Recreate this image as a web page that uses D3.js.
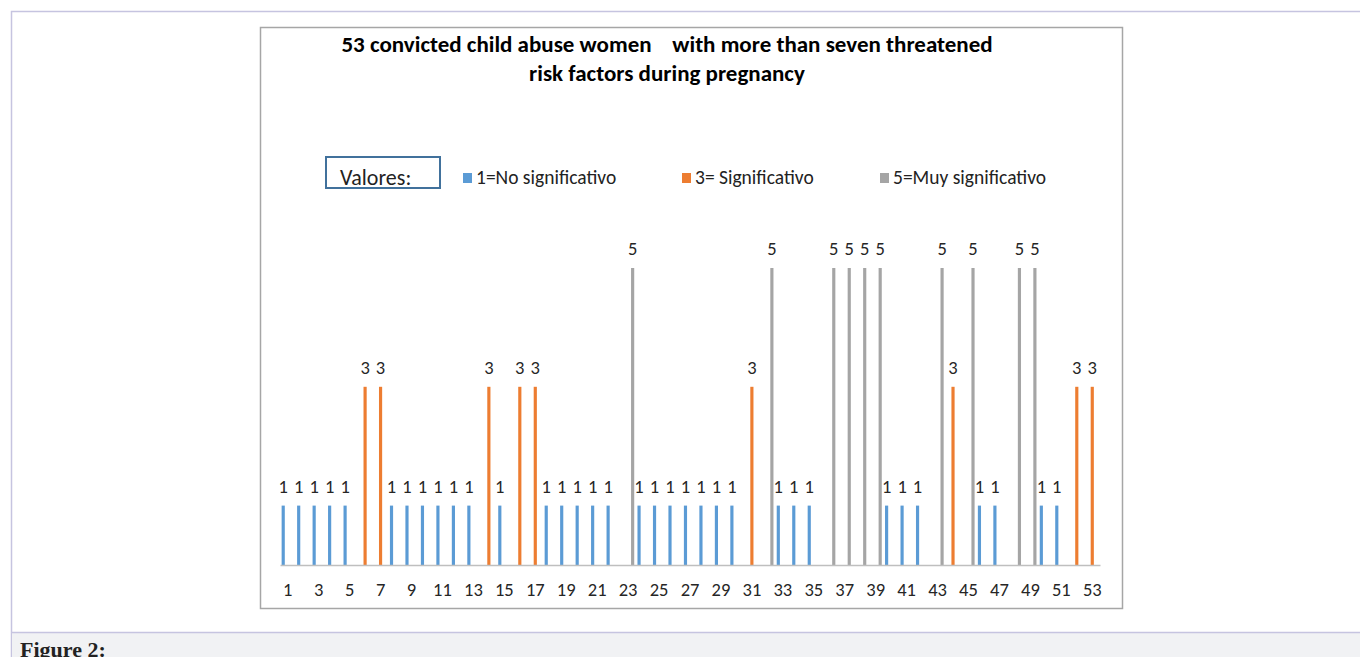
<!DOCTYPE html>
<html>
<head>
<meta charset="utf-8">
<script src="https://cdn.jsdelivr.net/npm/d3@7"></script>
<style>
  body { margin: 0; background: #ffffff; }
  svg { display: block; }
</style>
</head>
<body>
<svg id="chart"></svg>
<script>
// Données
const categories = [1,2,3,4,5,6,7,8,9,10,11,12,13,14,15,16,17,18,19,20,21,22,23,24,25,26,27,
    28,29,30,31,32,33,34,35,36,37,38,39,40,41,42,43,44,45,46,47,48,49,50,51,52,53];
const values = [1,1,1,1,1,3,3,1,1,1,1,1,1,3,1,3,3,1,1,1,1,1,5,1,1,1,1,1,1,1,3,5,1,1,1,
    5,5,5,5,1,1,1,5,3,5,1,1,5,5,1,1,3,3];
const seriesKeys = [1, 3, 5];
const seriesNames = ["1=No significativo", "3= Significativo", "5=Muy significativo"];
const seriesColors = ["#5b9bd5", "#ed7d31", "#a5a5a5"];
const xTickLabels = [1,3,5,7,9,11,13,15,17,19,21,23,25,27,29,31,33,35,37,39,41,43,45,47,49,51,53];
const titleLines = ["53 convicted child abuse women    with more than seven threatened",
    "risk factors during pregnancy"];

const W = 1360, H = 657;
const svg = d3.select("#chart").attr("width", W).attr("height", H);

const font = "Calibri, Carlito, 'Open Sans', sans-serif";

// cadre de la page
svg.append("path")
    .attr("d", `M11.5,${H} V11.5 H${W}`)
    .attr("fill", "none")
    .attr("stroke", "#c6c4e0")
    .attr("stroke-width", 1.5);

svg.append("rect")
    .attr("x", 12).attr("y", 632)
    .attr("width", W - 12).attr("height", H - 632)
    .attr("fill", "#f1f2f4");
svg.append("line")
    .attr("x1", 12).attr("x2", W)
    .attr("y1", 632.5).attr("y2", 632.5)
    .attr("stroke", "#c6c4e0")
    .attr("stroke-width", 1.5);
svg.append("text")
    .attr("x", 20).attr("y", 657)
    .attr("font-family", "'Liberation Serif', serif")
    .attr("font-weight", "bold")
    .attr("font-size", 22)
    .attr("fill", "#222")
    .text("Figure 2:");

// zone du graphique
svg.append("rect")
    .attr("x", 260.5).attr("y", 27.5)
    .attr("width", 862).attr("height", 581)
    .attr("fill", "#ffffff")
    .attr("stroke", "#a6a6a6")
    .attr("stroke-width", 1.5);

// titre
svg.append("g").selectAll("text")
    .data(titleLines)
    .join("text")
    .attr("x", 667)
    .attr("y", (d, i) => 52 + i * 29)
    .attr("text-anchor", "middle")
    .attr("font-family", font)
    .attr("font-weight", "bold")
    .attr("font-size", 23)
    .attr("fill", "#000")
    .style("white-space", "pre")
    .text(d => d);

// légende
svg.append("rect")
    .attr("x", 326).attr("y", 157)
    .attr("width", 114).attr("height", 31)
    .attr("fill", "none")
    .attr("stroke", "#41719c")
    .attr("stroke-width", 2);
svg.append("text")
    .attr("x", 340).attr("y", 185)
    .attr("font-family", font)
    .attr("font-size", 22)
    .attr("fill", "#222")
    .text("Valores:");

const legendX = [463, 682, 880];
const legend = svg.append("g").selectAll("g")
    .data(seriesNames)
    .join("g")
    .attr("transform", (d, i) => `translate(${legendX[i]},173)`);
legend.append("rect")
    .attr("width", 9).attr("height", 10)
    .attr("fill", (d, i) => seriesColors[i]);
legend.append("text")
    .attr("x", 13).attr("y", 11)
    .attr("font-family", font)
    .attr("font-size", 19.5)
    .attr("fill", "#222")
    .text(d => d);

// échelles
const x = d3.scaleBand()
    .domain(categories)
    .range([280, 1100]);

const xSub = d3.scaleBand()
    .domain(seriesKeys)
    .range([0, x.bandwidth()])
    .paddingInner(0.3)
    .paddingOuter(0.36);

const y = d3.scaleLinear()
    .domain([0, 6])
    .range([565, 208.6]);

const bars = categories.map((c, i) => ({ cat: c, value: values[i] }));

// barres
svg.append("g").selectAll("rect")
    .data(bars)
    .join("rect")
    .attr("x", d => x(d.cat) + xSub(d.value))
    .attr("y", d => y(d.value))
    .attr("width", xSub.bandwidth())
    .attr("height", d => y(0) - y(d.value))
    .attr("fill", d => seriesColors[seriesKeys.indexOf(d.value)]);

// étiquettes de valeurs
svg.append("g").selectAll("text")
    .data(bars)
    .join("text")
    .attr("x", d => x(d.cat) + xSub(d.value) + xSub.bandwidth() / 2)
    .attr("y", d => y(d.value) - 13)
    .attr("text-anchor", "middle")
    .attr("font-family", font)
    .attr("font-size", 18.5)
    .attr("fill", "#262626")
    .text(d => d.value);

// axe des x
const xAxis = svg.append("g")
    .attr("transform", `translate(0,${y(0)})`)
    .call(d3.axisBottom(x).tickValues(xTickLabels).tickSize(0).tickPadding(18));
xAxis.select(".domain").attr("stroke", "#bfbfbf").attr("stroke-width", 1.5);
xAxis.selectAll("text")
    .attr("font-family", font)
    .attr("font-size", 18.5)
    .attr("fill", "#262626");
</script>
</body>
</html>
